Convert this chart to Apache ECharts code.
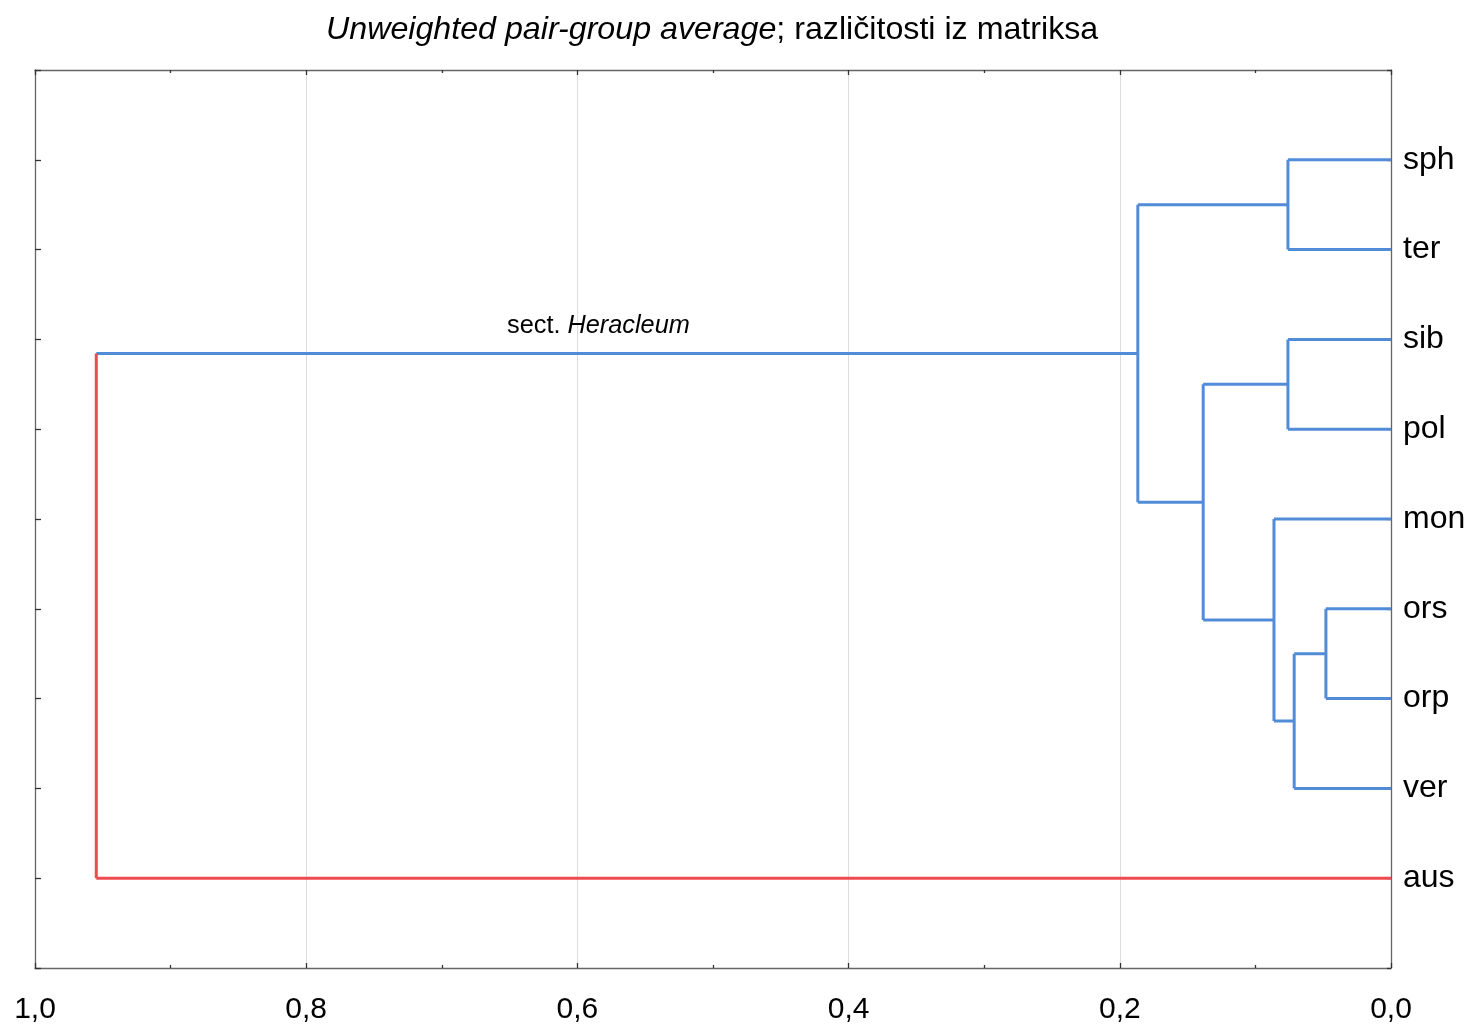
<!DOCTYPE html>
<html>
<head>
<meta charset="utf-8">
<script src="https://cdn.jsdelivr.net/npm/echarts@6/dist/echarts.min.js"></script>
<style>html,body{margin:0;padding:0;background:#fff}#c{width:1471px;height:1027px}</style>
</head>
<body>
<div id="c"></div>
<script>
// Leaves, top to bottom
const leaves = ['sph','ter','sib','pol','mon','ors','orp','ver','aus'];
// Merges: node ids 0..8 are leaves, merged clusters get ids 9, 10, ...
const mergeLeft   = [5, 9, 0, 2, 4, 12, 11, 15];
const mergeRight  = [6, 7, 1, 3, 10, 13, 14, 8];
const mergeHeight = [0.048, 0.0714, 0.076, 0.076, 0.0863, 0.1385, 0.1867, 0.9548];
const xTicks = [0, 0.2, 0.4, 0.6, 0.8, 1.0];
const outgroup = 'aus';
const annotation = 'Heracleum';

const BLUE = '#528cd9', RED = '#ef4a4f';

// Node positions
const nodeY = leaves.map((_, i) => i + 1);
const nodeH = leaves.map(() => 0);
const nodeRed = leaves.map(l => l === outgroup);
mergeLeft.forEach((a, k) => {
  const b = mergeRight[k];
  nodeY.push((nodeY[a] + nodeY[b]) / 2);
  nodeH.push(mergeHeight[k]);
  nodeRed.push(k === mergeLeft.length - 1);
});

const series = [];
function seg(p, q, red) {
  series.push({
    type: 'line', data: [p, q], symbol: 'none', silent: true,
    lineStyle: { width: 3, color: red ? RED : BLUE }, z: red ? 3 : 2
  });
}
mergeLeft.forEach((a, k) => {
  const b = mergeRight[k];
  const id = leaves.length + k;
  const h = mergeHeight[k];
  seg([nodeH[a], nodeY[a]], [h, nodeY[a]], nodeRed[a]);
  seg([nodeH[b], nodeY[b]], [h, nodeY[b]], nodeRed[b]);
  seg([h, nodeY[a]], [h, nodeY[b]], nodeRed[id]);
});

// Annotation above the long blue branch
const annNode = mergeLeft[mergeLeft.length - 1];
series.push({
  type: 'scatter', symbol: 'circle', symbolSize: 0, silent: true,
  itemStyle: { color: 'rgba(0,0,0,0)', opacity: 1 },
  data: [[0.5845, nodeY[annNode]]],
  label: {
    show: true, position: 'top', distance: 15, color: '#000', opacity: 1,
    formatter: '{n|sect. }{i|' + annotation + '}',
    rich: {
      n: { fontFamily: 'Liberation Sans', fontSize: 25.3, fontWeight: 'normal', color: '#000' },
      i: { fontFamily: 'Liberation Sans', fontSize: 25.3, fontWeight: 'normal', fontStyle: 'italic', color: '#000' }
    }
  }
});

const axisLine = { show: true, onZero: false, lineStyle: { color: '#666', width: 1.3 } };
function xAxis(pos, labels) {
  return {
    type: 'value', position: pos, min: 0, max: 1, interval: 0.2, inverse: true,
    axisLine, 
    axisTick: { show: true, inside: true, length: 5, lineStyle: { color: '#333', width: 1.3 } },
    minorTick: { show: true, splitNumber: 2, length: 3, lineStyle: { color: '#333', width: 1.3 } },
    splitLine: { show: pos === 'bottom', lineStyle: { color: '#dcdcdc', width: 1 } },
    axisLabel: {
      show: labels, margin: 27, fontFamily: 'Liberation Sans', fontSize: 30, color: '#000',
      formatter: v => xTicks.some(t => Math.abs(t - v) < 1e-9) ? v.toFixed(1).replace('.', ',') : ''
    }
  };
}
function yAxis(pos, labels) {
  return {
    type: 'value', position: pos, min: 0, max: 10, interval: 1, inverse: true,
    axisLine,
    axisTick: { show: true, inside: true, length: pos === 'left' ? 6 : 4, lineStyle: { color: '#333', width: 1.3 } },
    splitLine: { show: false },
    axisLabel: {
      show: labels, margin: 12, fontFamily: 'Liberation Sans', fontSize: 32, color: '#000',
      formatter: v => (v >= 1 && v <= leaves.length) ? leaves[v - 1] : ''
    }
  };
}

const chart = echarts.init(document.getElementById('c'), null, { renderer: 'canvas' });
chart.setOption({
  animation: false,
  backgroundColor: '#fff',
  title: {
    text: '{i|Unweighted pair-group average}{n|; različitosti iz matriksa}',
    left: 321, top: 9,
    textStyle: {
      fontWeight: 'normal',
      rich: {
        i: { fontFamily: 'Liberation Sans', fontSize: 32.2, fontWeight: 'normal', fontStyle: 'italic', color: '#000' },
        n: { fontFamily: 'Liberation Sans', fontSize: 32.2, fontWeight: 'normal', color: '#000' }
      }
    }
  },
  grid: { left: 35, right: 80, top: 70, bottom: 59, containLabel: false },
  xAxis: [xAxis('bottom', true), xAxis('top', false)],
  yAxis: [yAxis('left', false), yAxis('right', true)],
  series
});
</script>
</body>
</html>
